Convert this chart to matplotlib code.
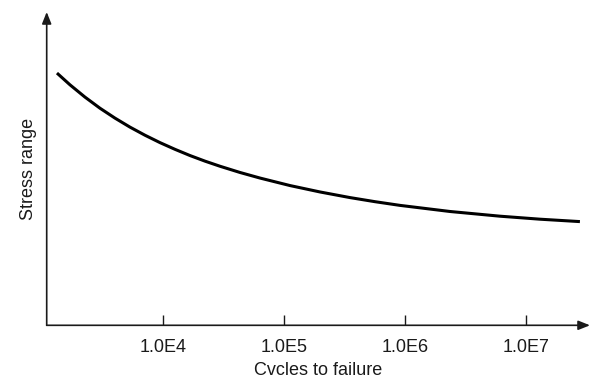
import matplotlib.pyplot as plt

plt.rcParams['font.family'] = ['Liberation Sans', 'DejaVu Sans']

# S-N curve read as (cycles, stress range) pairs, stress in arbitrary units
cycles = [1330, 1702, 2265, 3013, 4009, 5334, 7097, 9445, 12570, 16720,
          22240, 29590, 43250, 63390, 112200, 198600, 350800, 565000, 910000,
          2.355e6, 6.10e6, 1.306e7, 2.79e7]
stress = [252, 240.3, 228, 216.9, 207, 198, 189.9, 182.5, 175.8, 169.6,
          164, 158.9, 152.7, 147.1, 139.6, 133.2, 127.6, 123.5, 119.8,
          113.7, 109, 106, 103.6]

tick_pos = [1e4, 1e5, 1e6, 1e7]
tick_labels = ["1.0E4", "1.0E5", "1.0E6", "1.0E7"]

fig = plt.figure(figsize=(5.91, 3.79), dpi=100)
ax = fig.add_axes([46.7 / 591, (379 - 325.3) / 379, (590 - 46.7) / 591, (325.3 - 12) / 379])

ax.plot(cycles, stress, color='black', linewidth=2.2, solid_capstyle='butt',
        solid_joinstyle='round')

ax.set_xscale('log')
ax.set_xlim(1094, 3.38e7)
ax.set_ylim(0, 313)

# plain axis lines with arrow heads instead of the box
for s in ax.spines.values():
    s.set_visible(False)
arrow = dict(arrowstyle='-|>,head_length=0.7,head_width=0.28', color='#1a1a1a', lw=1.2,
             shrinkA=0, shrinkB=0)
ax.annotate('', xy=(1, 0), xytext=(0, 0), xycoords='axes fraction', arrowprops=arrow)
ax.annotate('', xy=(0, 1), xytext=(0, 0), xycoords='axes fraction', arrowprops=arrow)

ax.set_xticks(tick_pos)
ax.set_xticklabels(tick_labels)
ax.minorticks_off()
ax.set_yticks([])
ax.tick_params(axis='x', direction='in', length=7, width=1, color='#1a1a1a',
               labelsize=13, pad=10, labelcolor='#1a1a1a')

ax.set_xlabel("Cvcles to failure", fontsize=13, color='#1a1a1a', labelpad=4)
ax.set_ylabel("Stress range", fontsize=13, color='#1a1a1a', labelpad=7)

fig.savefig("out.png", dpi=100)
